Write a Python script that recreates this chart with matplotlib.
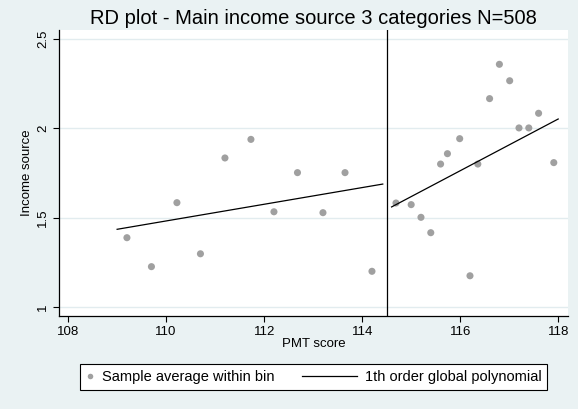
import matplotlib
matplotlib.use('Agg')
import matplotlib.pyplot as plt
from matplotlib.lines import Line2D
from matplotlib.legend_handler import HandlerLine2D

plt.rcParams['font.family'] = ['Liberation Sans', 'DejaVu Sans']

# bin averages (PMT score bin centre, mean income source)
bin_x = [109.2, 109.7, 110.22, 110.7, 111.2, 111.73, 112.2, 112.68, 113.2, 113.65, 114.2,
         114.69, 115.0, 115.2, 115.4, 115.6, 115.74, 115.99, 116.2, 116.36, 116.6, 116.8,
         117.01, 117.2, 117.4, 117.6, 117.91]
bin_y = [1.388, 1.226, 1.584, 1.298, 1.834, 1.938, 1.533, 1.752, 1.528, 1.752, 1.200,
         1.582, 1.573, 1.502, 1.416, 1.800, 1.858, 1.942, 1.175, 1.800, 2.166, 2.358,
         2.266, 2.002, 2.002, 2.084, 1.808]

# linear fit on each side of the cutoff
fit_left_x = [109.0, 114.42]
fit_left_y = [1.435, 1.688]
fit_right_x = [114.6, 118.0]
fit_right_y = [1.560, 2.052]

cutoff = 114.5
xticks = [108, 110, 112, 114, 116, 118]
yticks = [1, 1.5, 2, 2.5]
ytick_labels = ['1', '1.5', '2', '2.5']

bg = '#EAF2F3'
dot_col = '#A0A0A0'


class LongLineHandler(HandlerLine2D):
    # draw the key line further left than the (short) handle box
    def create_artists(self, legend, orig_handle, xdescent, ydescent, width, height, fontsize, trans):
        arts = super().create_artists(legend, orig_handle, xdescent, ydescent, width, height, fontsize, trans)
        x1 = -xdescent + width
        for a in arts:
            y = a.get_ydata()[0]
            a.set_data([x1 - 3.75 * fontsize, x1], [y, y])
        return arts


fig = plt.figure(figsize=(5.78, 4.09), dpi=100, facecolor=bg)
ax = fig.add_axes([0.1026, 0.2274, 0.8801, 0.6993])
ax.set_facecolor('white')

ax.grid(axis='y', color='#E2ECEF', lw=1.0)
ax.set_axisbelow(True)

ax.scatter(bin_x, bin_y, s=26, color=dot_col, edgecolors='none', zorder=3)
ax.plot(fit_left_x, fit_left_y, color='black', lw=0.9, zorder=4)
ax.plot(fit_right_x, fit_right_y, color='black', lw=0.9, zorder=4)
ax.axvline(cutoff, color='black', lw=0.9, zorder=4)

ax.set_xlim(107.82, 118.2)
ax.set_ylim(0.95, 2.55)
ax.set_xticks(xticks)
ax.set_yticks(yticks)
ax.set_yticklabels(ytick_labels, rotation=90, va='center')

for s in ['top', 'right']:
    ax.spines[s].set_visible(False)
for s in ['left', 'bottom']:
    ax.spines[s].set_color('black')
    ax.spines[s].set_linewidth(0.9)
ax.tick_params(direction='out', length=4.3, width=0.8, labelsize=9.5, color='black', pad=3)

ax.set_xlabel('PMT score', fontsize=9.5, labelpad=0)
ax.set_ylabel('Income source', fontsize=9.5, labelpad=3)
ax.set_title('RD plot - Main income source 3 categories N=508', fontsize=14.5, pad=4)

h1 = Line2D([], [], ls='none', marker='o', markersize=4, color=dot_col, markeredgewidth=0)
h2 = Line2D([], [], color='black', lw=0.9)
leg = fig.legend([h1, h2], ['Sample average within bin', '1th order global polynomial'],
                 loc='center', bbox_to_anchor=(0.5424, 0.0775), ncol=2, fontsize=10.5,
                 handlelength=0.6, handletextpad=0.55, columnspacing=5.0, borderpad=0.4,
                 numpoints=1, fancybox=False, framealpha=1, edgecolor='black',
                 handler_map={h2: LongLineHandler()})
leg.get_frame().set_linewidth(0.8)

fig.savefig('out.png', dpi=100, facecolor=bg)
